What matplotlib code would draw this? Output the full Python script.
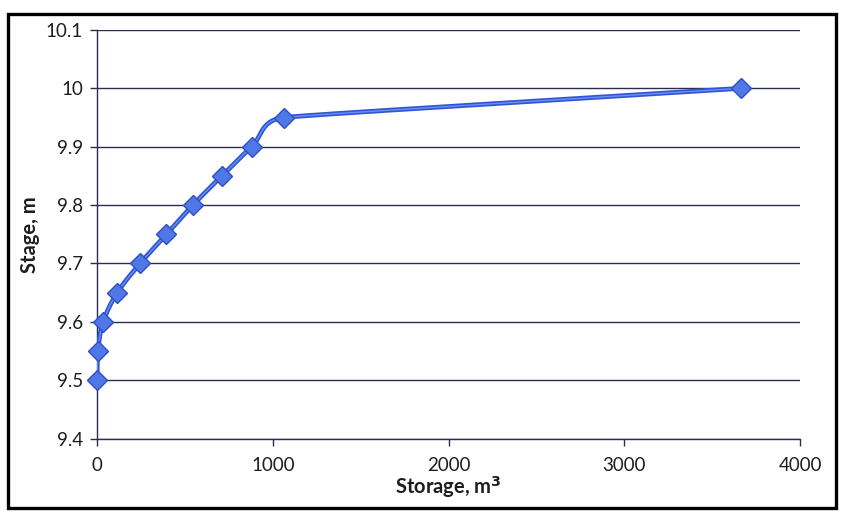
import numpy as np
import matplotlib
matplotlib.use("Agg")
import matplotlib.pyplot as plt
from matplotlib.patches import Rectangle

plt.rcParams['font.family'] = ['Lato', 'DejaVu Sans']

# Stage-storage relation
storage = [0, 5, 35, 115, 245, 395, 545, 710, 880, 1065, 3665]
stage = [9.5, 9.55, 9.6, 9.65, 9.7, 9.75, 9.8, 9.85, 9.9, 9.95, 10.0]

x_ticks = [0, 1000, 2000, 3000, 4000]
y_ticks = [9.4, 9.5, 9.6, 9.7, 9.8, 9.9, 10.0, 10.1]
y_tick_labels = ["9.4", "9.5", "9.6", "9.7", "9.8", "9.9", "10", "10.1"]


def smooth_curve(xs, ys, n=60, tension=0.35):
    """Cardinal-spline curve through the points (spreadsheet-style smoothed line)."""
    pts = np.column_stack([xs, ys]).astype(float)
    scale = np.array([np.ptp(pts[:, 0]) or 1.0, np.ptp(pts[:, 1]) or 1.0])
    p = pts / scale
    segs = np.linalg.norm(np.diff(p, axis=0), axis=1)
    out = []
    for i in range(len(p) - 1):
        p0 = p[i - 1] if i > 0 else p[i]
        p1, p2 = p[i], p[i + 1]
        p3 = p[i + 2] if i + 2 < len(p) else p[i + 1]
        m1 = p2 - p0
        m2 = p3 - p1
        # tangent length limited by the shorter neighbouring segment
        l1 = min(segs[i], segs[i - 1] if i > 0 else segs[i])
        l2 = min(segs[i], segs[i + 1] if i + 1 < len(segs) else segs[i])
        m1 = m1 / (np.linalg.norm(m1) or 1) * l1 * tension * 3
        m2 = m2 / (np.linalg.norm(m2) or 1) * l2 * tension * 3
        t = np.linspace(0, 1, n)[:, None]
        h00 = 2 * t**3 - 3 * t**2 + 1
        h10 = t**3 - 2 * t**2 + t
        h01 = -2 * t**3 + 3 * t**2
        h11 = t**3 - t**2
        out.append(h00 * p1 + h10 * m1 + h01 * p2 + h11 * m2)
    c = np.vstack(out) * scale
    return c[:, 0], c[:, 1]


fig = plt.figure(figsize=(8.44, 5.16), dpi=100)
ax = fig.add_axes([0.115, 0.150, 0.833, 0.792])

# outer chart border
fig.patches.append(Rectangle((0.010, 0.016), 0.980, 0.957, transform=fig.transFigure,
                             fill=False, edgecolor="black", linewidth=2.4, zorder=0))

ax.set_xlim(0, 4000)
ax.set_ylim(9.4, 10.1)
ax.set_xticks(x_ticks)
ax.set_yticks(y_ticks)
ax.set_yticklabels(y_tick_labels)

ax.grid(axis="y", color="#2b2d4f", linewidth=1.0)
ax.set_axisbelow(True)
for side in ("top", "right"):
    ax.spines[side].set_visible(False)
for side in ("left", "bottom"):
    ax.spines[side].set_color("#2b2d4f")
    ax.spines[side].set_linewidth(1.0)

ax.tick_params(axis="both", direction="out", length=5, width=1, color="#2b2d4f",
               labelsize=13.5, labelcolor="#1e1e1e")
ax.tick_params(axis="x", pad=8)
ax.tick_params(axis="y", pad=5)

sx, sy = smooth_curve(storage, stage)
ax.plot(sx, sy, color="#2f55d4", linewidth=3.4, solid_capstyle="round", zorder=3)
ax.plot(sx, sy, color="#6b8ff0", linewidth=1.0, zorder=3)
ax.plot(storage, stage, linestyle="none", marker="D", markersize=10,
        markerfacecolor="#4f78e6", markeredgecolor="#2d4fc4", markeredgewidth=1.0,
        zorder=4, clip_on=False)

ax.set_xlabel("Storage, m$^\\mathbf{3}$", fontsize=14.5, fontweight="bold", labelpad=0,
              color="#1e1e1e")
ax.set_ylabel("Stage, m", fontsize=14.5, fontweight="bold", labelpad=4, color="#1e1e1e")

fig.savefig("out.png", dpi=100)
